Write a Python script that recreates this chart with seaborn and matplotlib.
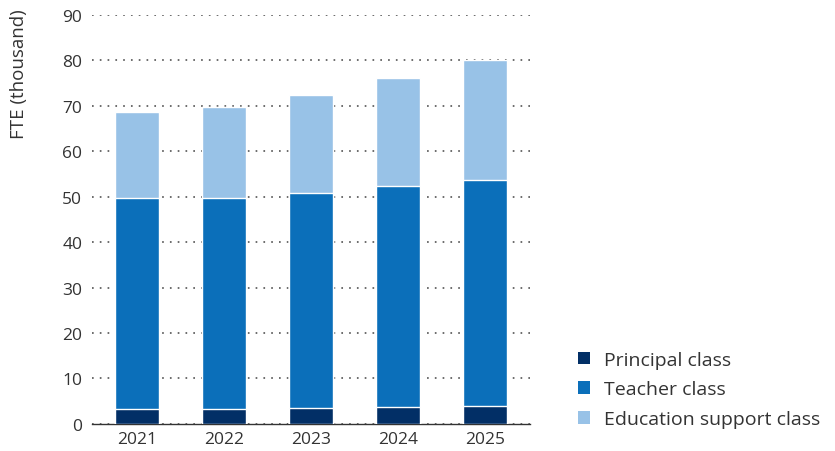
import matplotlib
matplotlib.use("Agg")
import matplotlib.pyplot as plt
from matplotlib.patches import Patch
import numpy as np
import pandas as pd
import seaborn as sns

years = ["2021", "2022", "2023", "2024", "2025"]
principal = [3.3, 3.3, 3.5, 3.7, 3.9]
teacher = [46.4, 46.4, 47.3, 48.6, 49.8]
support = [19.0, 20.1, 21.5, 23.8, 26.3]

series_names = ["Principal class", "Teacher class", "Education support class"]
colors = ["#022f66", "#0b6fba", "#98c2e7"]

sns.set_theme(style="white")
plt.rcParams["font.family"] = ["Open Sans", "DejaVu Sans"]

df = pd.DataFrame({
    "year": years,
    "principal": principal,
    "teacher": teacher,
    "support": support,
})
df["cum_teacher"] = df["principal"] + df["teacher"]
df["cum_total"] = df["cum_teacher"] + df["support"]

fig = plt.figure(figsize=(8.35, 4.52), dpi=100)
ax = fig.add_axes([0.110, 0.060, 0.525, 0.905])

# stacked bars drawn as overlapping cumulative layers
for col, color in zip(["cum_total", "cum_teacher", "principal"], colors[::-1]):
    sns.barplot(data=df, x="year", y=col, color=color, width=0.506,
                edgecolor="white", linewidth=1.0, saturation=1, ax=ax, zorder=3)

ax.set_xlim(-0.517, 4.517)
ax.set_ylim(0, 90)
ax.set_yticks(np.arange(0, 91, 10))
ax.yaxis.grid(True, linestyle=(0, (1.1, 4.0)), color="#444444", linewidth=1.1, zorder=0)
ax.xaxis.grid(False)
for s in ["top", "right", "left"]:
    ax.spines[s].set_visible(False)
ax.spines["bottom"].set_color("#333333")
ax.spines["bottom"].set_linewidth(1.0)
ax.tick_params(axis="both", length=0, labelsize=12.5, colors="#333333")
ax.tick_params(axis="y", pad=7)
ax.tick_params(axis="x", pad=5)
ax.set_xlabel("")
ax.set_ylabel("FTE (thousand)", fontsize=13.5, color="#333333", loc="top")
ax.yaxis.set_label_coords(-0.145, 1.015)

handles = [Patch(facecolor=c, edgecolor="none") for c in colors]
fig.legend(handles, series_names, loc="lower left", bbox_to_anchor=(0.671, 0.012),
           frameon=False, fontsize=14, handlelength=0.62, handleheight=0.62,
           handletextpad=0.72, labelspacing=0.6, labelcolor="#333333")

fig.savefig("out.png", dpi=100)
